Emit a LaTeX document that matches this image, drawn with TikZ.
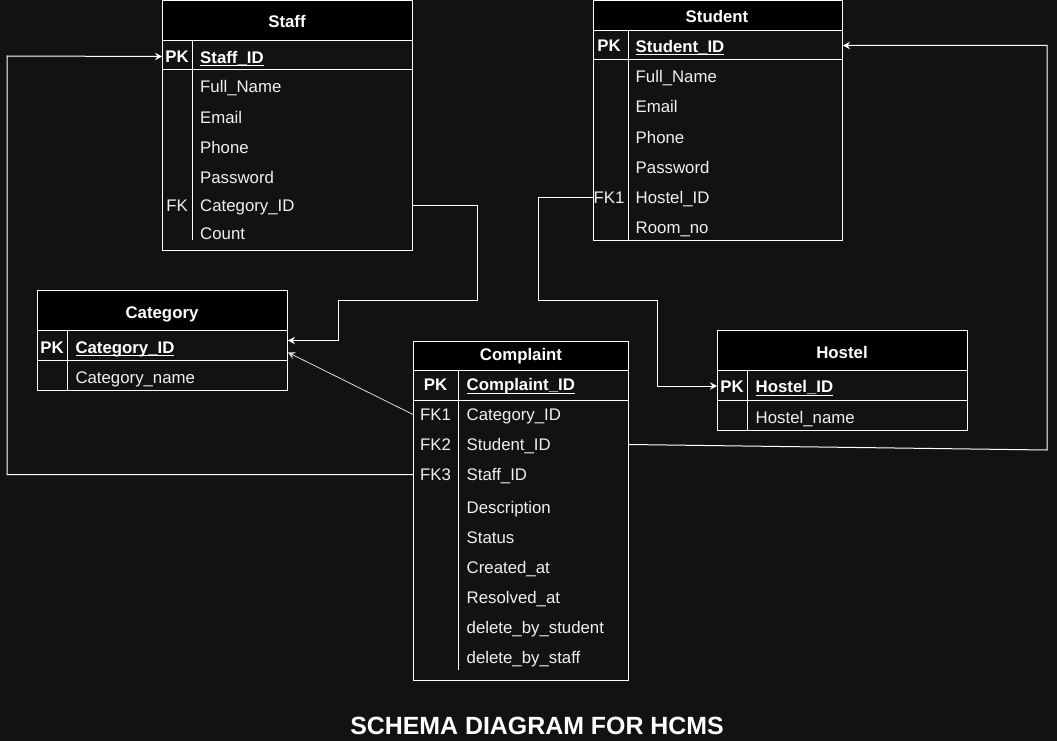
\documentclass[tikz,border=0pt]{standalone}
\usepackage{fontspec}
\setmainfont{Liberation Sans}
\usetikzlibrary{arrows.meta}
\definecolor{bg}{HTML}{121212}
\definecolor{txt}{HTML}{F0F0F0}
\newcommand\ulin[1]{\setbox0\hbox{#1}\rlap{\rule[-3pt]{\wd0}{1pt}}\box0}
\begin{document}
\begin{tikzpicture}[x=1pt,y=-1pt,
  tbl/.style={anchor=north west, draw=white, line width=1pt, inner sep=0pt},
  hdr/.style={anchor=north west, draw=white, fill=black, line width=1pt, inner sep=0pt},
  ttl/.style={inner sep=0pt, text=white, font=\bfseries\fontsize{16.8}{18}\selectfont, text height=12pt, text depth=0pt},
  fld/.style={anchor=west, inner sep=0pt, text=txt, font=\fontsize{16.8}{18}\selectfont, text height=12pt, text depth=0pt},
  pkf/.style={fld, text=white, font=\bfseries\fontsize{16.8}{18}\selectfont},
  key/.style={inner sep=0pt, text=txt, font=\fontsize{16.8}{18}\selectfont, text height=12pt, text depth=0pt},
  pkk/.style={key, text=white, font=\bfseries\fontsize{16.8}{18}\selectfont},
  ln/.style={draw=white, line width=1pt},
  conn/.style={draw=white, line width=1pt, line join=miter, -{Stealth[length=7pt,width=7.5pt,inset=2.5pt]}},
  conn2/.style={draw=white!85!black, line width=0.8pt, -{Stealth[length=7pt,width=7.5pt,inset=2.5pt]}}
]
\fill[bg] (0,0) rectangle (1057,741);
\useasboundingbox (0,0) rectangle (1057,741);

% ---------------- Staff ----------------
\node[tbl, minimum width=250pt, minimum height=249.5pt] (staff) at (162,0.5) {};
\node[hdr, minimum width=250pt, minimum height=39.5pt] (staffh) at (162,0.5) {};
\node[ttl] (stafft) at (287,22) {Staff};
\draw[ln] (162,70) -- (412,70);
\draw[ln] (192,40) -- (192,240);
\node[pkk] (spk) at (177,56.5) {PK};
\node[pkf] (sid) at (200,57.5) {\ulin{Staff\_ID}};
\node[fld] (sname) at (200,87) {Full\_Name};
\node[fld] (semail) at (200,117.5) {Email};
\node[fld] (sphone) at (200,147.5) {Phone};
\node[fld] (spass) at (200,177) {Password};
\node[key] (sfk) at (177,205.5) {FK};
\node[fld] (scat) at (200,205) {Category\_ID};
\node[fld] (scount) at (200,233) {Count};

% ---------------- Student ----------------
\node[tbl, minimum width=249pt, minimum height=239.5pt] (stu) at (593,0.5) {};
\node[hdr, minimum width=249pt, minimum height=29.5pt] (stuh) at (593,0.5) {};
\node[ttl] (stut) at (717,17) {Student};
\draw[ln] (593,60) -- (842,60);
\draw[ln] (628,30) -- (628,240);
\node[pkk] (stpk) at (609,45.5) {PK};
\node[pkf] (stid) at (635.5,46.5) {\ulin{Student\_ID}};
\node[fld] (stname) at (635.5,77) {Full\_Name};
\node[fld] (stemail) at (635.5,107) {Email};
\node[fld] (stphone) at (635.5,137) {Phone};
\node[fld] (stpass) at (635.5,167) {Password};
\node[key] (stfk) at (609,197) {FK1};
\node[fld] (sthos) at (635.5,197) {Hostel\_ID};
\node[fld] (stroom) at (635.5,227) {Room\_no};

% ---------------- Hostel ----------------
\node[tbl, minimum width=250pt, minimum height=100pt] (hos) at (717,330) {};
\node[hdr, minimum width=250pt, minimum height=40pt] (hosh) at (717,330) {};
\node[ttl] (host) at (842,352.5) {Hostel};
\draw[ln] (717,400) -- (967,400);
\draw[ln] (747,370) -- (747,430);
\node[pkk] (hpk) at (732,386) {PK};
\node[pkf] (hid) at (755.5,386.7) {\ulin{Hostel\_ID}};
\node[fld] (hname) at (755.5,417) {Hostel\_name};

% ---------------- Category ----------------
\node[tbl, minimum width=250pt, minimum height=100pt] (cat) at (37,290) {};
\node[hdr, minimum width=250pt, minimum height=40pt] (cath) at (37,290) {};
\node[ttl] (catt) at (162,312.5) {Category};
\draw[ln] (37,360) -- (287,360);
\draw[ln] (67,330) -- (67,390);
\node[pkk] (cpk) at (52,347) {PK};
\node[pkf] (cid) at (75.3,347) {\ulin{Category\_ID}};
\node[fld] (cname) at (75.3,377) {Category\_name};

% ---------------- Complaint ----------------
\node[tbl, minimum width=215pt, minimum height=339pt] (comp) at (413,341) {};
\node[hdr, minimum width=215pt, minimum height=29pt] (comph) at (413,341) {};
\node[ttl] (compt) at (521,354.5) {Complaint};
\draw[ln] (413,400) -- (628,400);
\draw[ln] (458,370) -- (458,670);
\node[pkk] (kpk) at (435.5,384.5) {PK};
\node[pkf] (kid) at (466.5,384.5) {\ulin{Complaint\_ID}};
\node[key] (kfk1) at (435.5,414.5) {FK1};
\node[fld] (kcat) at (466.5,414.5) {Category\_ID};
\node[key] (kfk2) at (435.5,444.5) {FK2};
\node[fld] (kstu) at (466.5,444.5) {Student\_ID};
\node[key] (kfk3) at (435.5,474.5) {FK3};
\node[fld] (kstaff) at (466.5,474.5) {Staff\_ID};
\node[fld] (kdesc) at (466.5,507) {Description};
\node[fld] (kstat) at (466.5,537) {Status};
\node[fld] (kcre) at (466.5,567) {Created\_at};
\node[fld] (kres) at (466.5,597) {Resolved\_at};
\node[fld] (kdst) at (466.5,627) {delete\_by\_student};
\node[fld] (kdsf) at (466.5,657) {delete\_by\_staff};

% ---------------- Title ----------------
\node[inner sep=0pt, text=white, font=\bfseries\fontsize{24.9}{28}\selectfont, text height=17.8pt, text depth=0pt] (title) at (537,725.5) {SCHEMA DIAGRAM FOR HCMS};

% ---------------- Connectors ----------------
% Staff.Category_ID -> Category.Category_ID
\draw[conn] (staff.east |- sfk) -| (477,300.5) -| (338,340.5) -- (cat.east);
% Complaint.Category_ID -> Category.Category_ID
\draw[conn2] (comp.west |- kfk1) -- ([yshift=-12pt]cat.east);
% Complaint.Staff_ID -> Staff.Staff_ID
\draw[conn] (comp.west |- kfk3) -| (7,56) -- (staff.west |- spk);
% Complaint.Student_ID -> Student.Student_ID
\draw[conn] (comp.east |- kfk2) -- (1047,450) |- (stu.east |- stpk);
% Student.Hostel_ID -> Hostel.Hostel_ID
\draw[conn] (stu.west |- stfk) -| (538,300) -| (657,386) -- (hos.west |- hpk);
\end{tikzpicture}
\end{document}
